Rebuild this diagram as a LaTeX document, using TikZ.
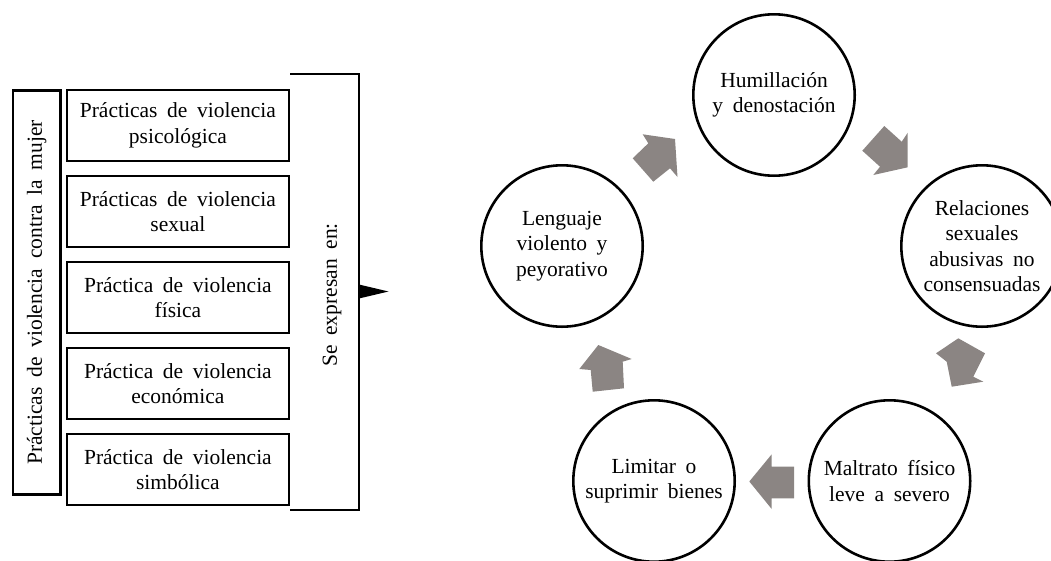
\documentclass[tikz,border=0pt]{standalone}
\usepackage{fontspec}
\setmainfont{Liberation Serif}[WordSpace=1.8]
\usepackage{xcolor}
\usetikzlibrary{positioning}
\definecolor{flecha}{RGB}{139,133,131}

\begin{document}
\begin{tikzpicture}[x=1pt,y=-1pt,
	texto/.style={font=\fontsize{21.5}{25.5}\selectfont, align=center, inner sep=0pt},
	caja/.style={texto, draw, line width=2.6pt, minimum width=222pt, minimum height=71pt},
	ciclo/.style={texto, draw, circle, line width=2.6pt, minimum size=161.4pt},
	bloque/.style={fill=flecha}]
		\clip (0,0) rectangle (1051,560);
		\node[texto, draw, line width=2.6pt, rotate=90, minimum width=404.4pt, minimum height=47.4pt] (mujer) at (36.7,292.5) {Prácticas de violencia contra la mujer};
		\node[caja] (psico) at (177.9,125.5) {Prácticas de violencia\\psicológica};
		\node[caja, below=12.4pt of psico] (sexual) {Prácticas de violencia\\sexual};
		\node[caja, below=12.4pt of sexual] (fisica) {Práctica de violencia\\física};
		\node[caja, below=12.4pt of fisica] (econo) {Práctica de violencia\\económica};
		\node[caja, below=12.4pt of econo] (simbo) {Práctica de violencia\\simbólica};
		\node[texto, rotate=90] (expresan) at (332,295) {Se expresan en:};
		\coordinate (llave a) at (290,74);
		\coordinate (llave b) at (359,510);
		\coordinate (llave c) at (290,510);
		\coordinate (punta) at (388.5,291.5);
		\draw[line width=2.3pt] (llave a) -| (llave b) -- (llave c);
		\fill[black] (359,284.5) -- (punta) -- (359,298.5) -- cycle;
		\node[ciclo] (humilla) at (774,95) {Humillación\\y denostación};
		\node[ciclo] (relacion) at (982,246) {Relaciones\\sexuales\\abusivas no\\consensuadas};
		\node[ciclo] (maltrato) at (889.5,481) {Maltrato físico\\leve a severo};
		\node[ciclo] (limitar) at (654,481) {Limitar o\\suprimir bienes};
		\node[ciclo] (lenguaje) at (562,246) {Lenguaje\\violento y\\peyorativo};
		\fill[bloque] (632.7,158.3) -- (648.3,143.3) -- (642.7,134.3) -- (675,139) -- (677.5,177) -- (670,168.3) -- (653.3,181.7) -- cycle;
		\fill[bloque] (884.3,126) -- (901.7,141.7) -- (907.7,132.7) -- (907.7,167.3) -- (873.3,175) -- (880,166.7) -- (862.3,150.7) -- cycle;
		\fill[bloque] (958.3,338.3) -- (985,353.3) -- (973.3,376.7) -- (983.3,381.7) -- (951.7,386.7) -- (946.7,361.7) -- (936,353.3) -- cycle;
		\fill[bloque] (749.3,481.5) -- (771.7,454.3) -- (771.7,466.7) -- (794,466.7) -- (794,498.3) -- (771.7,498.3) -- (771.7,509) -- cycle;
		\fill[bloque] (598.3,345) -- (631.7,359) -- (622.7,361.7) -- (624,388.3) -- (592.7,391.7) -- (590.7,370) -- (579.3,369) -- cycle;
	\end{tikzpicture}
\end{document}
